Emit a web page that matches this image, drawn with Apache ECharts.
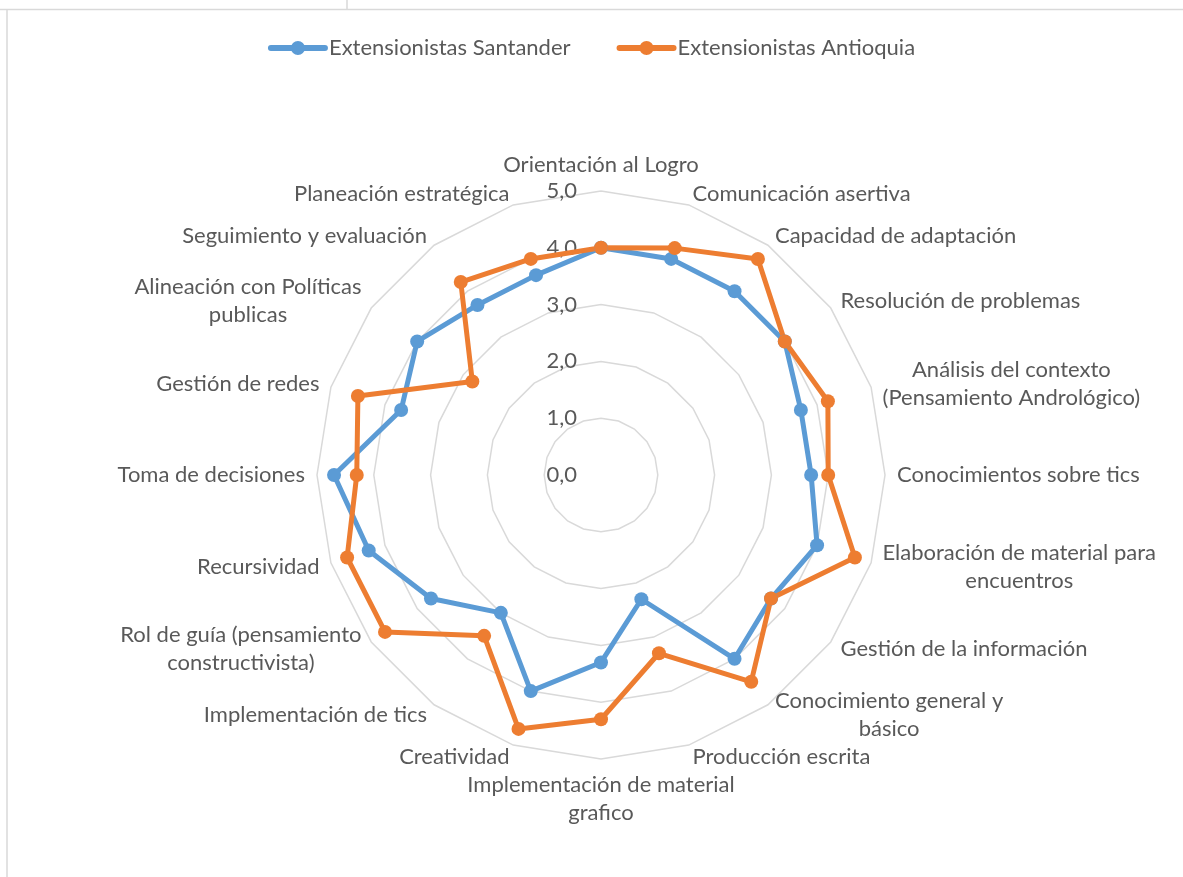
<!DOCTYPE html>
<html>
<head>
<meta charset="utf-8">
<script src="https://cdn.jsdelivr.net/npm/echarts@6/dist/echarts.min.js"></script>
<style>
html,body{margin:0;padding:0;background:#fff;}
#chart{width:1183px;height:877px;}
</style>
</head>
<body>
<div id="chart"></div>
<script>
const categories = [
  'Orientación al Logro',
  'Comunicación asertiva',
  'Capacidad de adaptación',
  'Resolución de problemas',
  'Análisis del contexto\n(Pensamiento Andrológico)',
  'Conocimientos sobre tics',
  'Elaboración de material para\nencuentros',
  'Gestión de la información',
  'Conocimiento general y\nbásico',
  'Producción escrita',
  'Implementación de material\ngrafico',
  'Creatividad',
  'Implementación de tics',
  'Rol de guía (pensamiento\nconstructivista)',
  'Recursividad',
  'Toma de decisiones',
  'Gestión de redes',
  'Alineación con Políticas\npublicas',
  'Seguimiento y evaluación',
  'Planeación estratégica'
];
const seriesNames = ['Extensionistas Santander', 'Extensionistas Antioquia'];
const santander = [4.0, 4.0, 4.0, 4.0, 3.7, 3.7, 4.0, 3.7, 4.0, 2.3, 3.3, 4.0, 3.0, 3.7, 4.3, 4.7, 3.7, 4.0, 3.7, 3.7];
const antioquia = [4.0, 4.2, 4.7, 4.0, 4.2, 4.0, 4.7, 3.7, 4.5, 3.3, 4.3, 4.7, 3.5, 4.7, 4.7, 4.3, 4.5, 2.8, 4.2, 4.0];
const tickLabels = ['0,0', '1,0', '2,0', '3,0', '4,0', '5,0'];
const axisMax = 5;

// ECharts radar runs counter-clockwise; reorder so the items read clockwise like the original.
function clockwise(arr) { return [arr[0]].concat(arr.slice(1).reverse()); }

const TEXT = '#595959';
const FONT = 'Lato';
const FS = 22;
const CENTER = [601, 475];
const RADIUS = 284;
const LEGEND_ICON = 'path://M3,5 L57,5 A3,3 0 0 1 57,11 L3,11 A3,3 0 0 1 3,5 Z M37,8 A7,7 0 1 1 23,8 A7,7 0 1 1 37,8 Z';

const chart = echarts.init(document.getElementById('chart'), null, {renderer: 'canvas'});
chart.setOption({
  backgroundColor: '#ffffff',
  animation: false,
  color: ['#5B9BD5', '#ED7D31'],
  legend: {
    data: seriesNames,
    top: 32,
    left: 'center',
    icon: LEGEND_ICON,
    itemWidth: 60,
    itemHeight: 14,
    itemGap: 46,
    textStyle: {color: TEXT, fontSize: FS, fontFamily: FONT, padding: [0, 0, 0, -4]}
  },
  graphic: [
    {type: 'line', shape: {x1: 0, y1: 9.5, x2: 1183, y2: 9.5}, style: {stroke: '#D9D9D9', lineWidth: 1.5}, silent: true},
    {type: 'line', shape: {x1: 347, y1: 0, x2: 347, y2: 9}, style: {stroke: '#D9D9D9', lineWidth: 1.5}, silent: true},
    {type: 'line', shape: {x1: 7, y1: 10, x2: 7, y2: 877}, style: {stroke: '#D9D9D9', lineWidth: 1.5}, silent: true}
  ],
  radar: {
    center: CENTER,
    radius: RADIUS,
    startAngle: 90,
    shape: 'polygon',
    splitNumber: 5,
    nameGap: 12,
    indicator: clockwise(categories).map(n => ({name: n, min: 0, max: axisMax})),
    axisName: {
      color: TEXT,
      fontSize: FS,
      fontFamily: FONT,
      formatter: function (name) {
        return name.split('\n').map(l => '{c|' + l + '}').join('\n');
      },
      rich: {
        c: {align: 'center', color: TEXT, fontSize: FS, fontFamily: FONT, lineHeight: 28}
      }
    },
    axisLine: {show: false},
    axisTick: {show: false},
    axisLabel: {show: false},
    splitLine: {lineStyle: {color: '#D9D9D9', width: 1.5}},
    splitArea: {show: false}
  },
  polar: {center: CENTER, radius: RADIUS},
  angleAxis: {type: 'value', startAngle: 90, min: 0, max: 360, show: false},
  radiusAxis: {
    type: 'value', min: 0, max: axisMax, interval: 1,
    axisLine: {show: false}, axisTick: {show: false}, splitLine: {show: false},
    axisLabel: {
      color: TEXT, fontSize: FS, fontFamily: FONT, margin: 24,
      formatter: v => tickLabels[Math.round(v)]
    }
  },
  series: [{
    type: 'radar',
    symbol: 'circle',
    symbolSize: 14,
    data: [
      {name: seriesNames[0], value: clockwise(santander),
       lineStyle: {width: 5, color: '#5B9BD5'}, itemStyle: {color: '#5B9BD5'}},
      {name: seriesNames[1], value: clockwise(antioquia),
       lineStyle: {width: 5, color: '#ED7D31'}, itemStyle: {color: '#ED7D31'}}
    ]
  }]
});
</script>
</body>
</html>
